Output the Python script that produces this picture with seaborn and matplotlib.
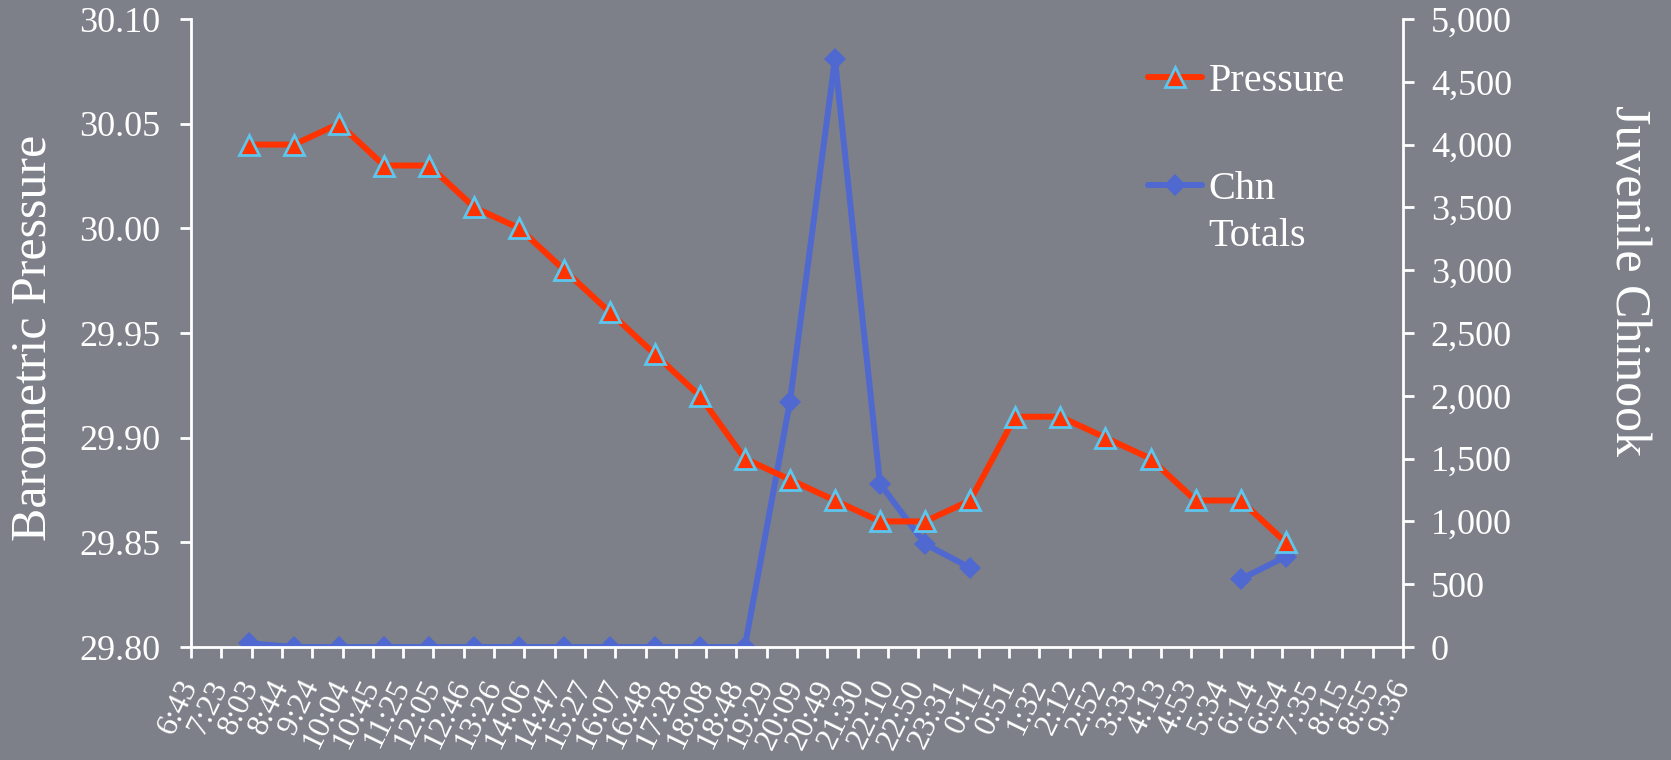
import numpy as np
import pandas as pd
import matplotlib
matplotlib.use("Agg")
import matplotlib.pyplot as plt
import matplotlib.transforms as mtransforms
import seaborn as sns

# Hourly observations, 08:00 on day one through 07:00 the next morning
obs_hours = [8, 9, 10, 11, 12, 13, 14, 15, 16, 17, 18, 19,
             20, 21, 22, 23, 24, 25, 26, 27, 28, 29, 30, 31]
pressure = [30.04, 30.04, 30.05, 30.03, 30.03, 30.01, 30.00, 29.98,
            29.96, 29.94, 29.92, 29.89, 29.88, 29.87, 29.86, 29.86,
            29.87, 29.91, 29.91, 29.90, 29.89, 29.87, 29.87, 29.85]
chn_totals = [30, 0, 0, 0, 0, 0, 0, 0, 0, 0, 0, 0,
              1950, 4680, 1300, 820, 630, np.nan, np.nan, np.nan,
              np.nan, np.nan, 540, 720]

# Time axis tick labels (roughly every 40 minutes)
x_tick_labels = ["6:43", "7:23", "8:03", "8:44", "9:24", "10:04", "10:45",
                 "11:25", "12:05", "12:46", "13:26", "14:06", "14:47",
                 "15:27", "16:07", "16:48", "17:28", "18:08", "18:48",
                 "19:29", "20:09", "20:49", "21:30", "22:10", "22:50",
                 "23:31", "0:11", "0:51", "1:32", "2:12", "2:52", "3:33",
                 "4:13", "4:53", "5:34", "6:14", "6:54", "7:35", "8:15",
                 "8:55", "9:36"]
x_start = 6 + 43 / 60
x_end = 24 + 9 + 36 / 60

pressure_ticks = [29.80, 29.85, 29.90, 29.95, 30.00, 30.05, 30.10]
chn_ticks = [0, 500, 1000, 1500, 2000, 2500, 3000, 3500, 4000, 4500, 5000]

BG = "#7d7f89"
RED = "#ff3300"
CYAN = "#5cc6ee"
BLUE = "#4f69d0"
WHITE = "white"

sns.set_style("ticks")
plt.rcParams["font.family"] = ["Liberation Serif", "DejaVu Serif"]

W, H = 1671, 760
fig = plt.figure(figsize=(W / 100, H / 100), dpi=100, facecolor=BG)
left, right, top, bottom = 191, 1403, 19, 647
ax = fig.add_axes([left / W, 1 - bottom / H, (right - left) / W, (bottom - top) / H])
ax.set_facecolor("none")
ax2 = ax.twinx()
ax2.set_facecolor("none")

p_df = pd.DataFrame({"hour": obs_hours, "pressure": pressure})
c_df = pd.DataFrame({"hour": obs_hours, "count": chn_totals})
c_df["segment"] = c_df["count"].isna().cumsum()
c_df = c_df.dropna()

sns.lineplot(data=c_df, x="hour", y="count", units="segment", estimator=None,
             ax=ax2, color=BLUE, lw=4.3, marker="D", markersize=11,
             markerfacecolor=BLUE, markeredgecolor=BLUE, markeredgewidth=0,
             legend=False, zorder=3)
sns.lineplot(data=p_df, x="hour", y="pressure", ax=ax, color=RED, lw=4.3,
             marker="^", markersize=14, markerfacecolor=RED,
             markeredgecolor=CYAN, markeredgewidth=2, legend=False,
             zorder=4)

ax.set_zorder(ax2.get_zorder() + 1)

ax.set_xlim(x_start, x_end)
ax.set_ylim(29.80, 30.10)
ax2.set_ylim(0, 5000)

ax.set_xticks(np.linspace(x_start, x_end, len(x_tick_labels)))
ax.set_xticklabels(x_tick_labels, rotation=64, ha="right", va="center",
                   rotation_mode="anchor")
shift = mtransforms.ScaledTranslation(5 / 100, 0, fig.dpi_scale_trans)
for lbl in ax.get_xticklabels():
    lbl.set_transform(lbl.get_transform() + shift)
ax.set_yticks(pressure_ticks)
ax.set_yticklabels([f"{v:.2f}" for v in pressure_ticks])
ax2.set_yticks(chn_ticks)
ax2.set_yticklabels([f"{v:,}" for v in chn_ticks])

for s in ["left", "bottom"]:
    ax.spines[s].set_color(WHITE)
    ax.spines[s].set_linewidth(2)
for s in ["top", "right"]:
    ax.spines[s].set_visible(False)
for s in ["top", "left", "bottom"]:
    ax2.spines[s].set_visible(False)
ax2.spines["right"].set_color(WHITE)
ax2.spines["right"].set_linewidth(2)

ax.tick_params(axis="x", colors=WHITE, width=2, length=8, direction="out",
               labelsize=23, pad=17)
ax.tick_params(axis="y", colors=WHITE, width=2, length=8, direction="out",
               labelsize=26, pad=14)
ax2.tick_params(axis="y", colors=WHITE, width=2, length=8, direction="out",
                labelsize=26, pad=12)

ax.set_xlabel("")
ax.set_ylabel("Barometric Pressure", fontsize=36, color=WHITE,
              ha="center", va="center")
ax.yaxis.set_label_coords(-0.130, 0.492)
ax2.set_ylabel("Juvenile Chinook", fontsize=36, color=WHITE, rotation=-90,
               ha="center", va="center")
ax2.yaxis.set_label_coords(1.186, 0.584)

p_line = ax.get_lines()[0]
c_line = ax2.get_lines()[0]
leg = ax.legend([p_line, c_line], ["Pressure", "Chn"], loc="upper left",
                bbox_to_anchor=(1148 / W, 1 - 63 / H),
                bbox_transform=fig.transFigure, frameon=False, fontsize=29,
                handlelength=1.35, handletextpad=0.15, labelspacing=1.75,
                borderpad=0, borderaxespad=0)
for t in leg.get_texts():
    t.set_color(WHITE)
fig.canvas.draw()
chn_text = leg.get_texts()[1]
bb = chn_text.get_window_extent()
fig.text(bb.x0 / W, (bb.y0 - 47) / H, "Totals", fontsize=29, color=WHITE,
         ha="left", va="bottom")

fig.savefig("out.png", dpi=100, facecolor=BG)
